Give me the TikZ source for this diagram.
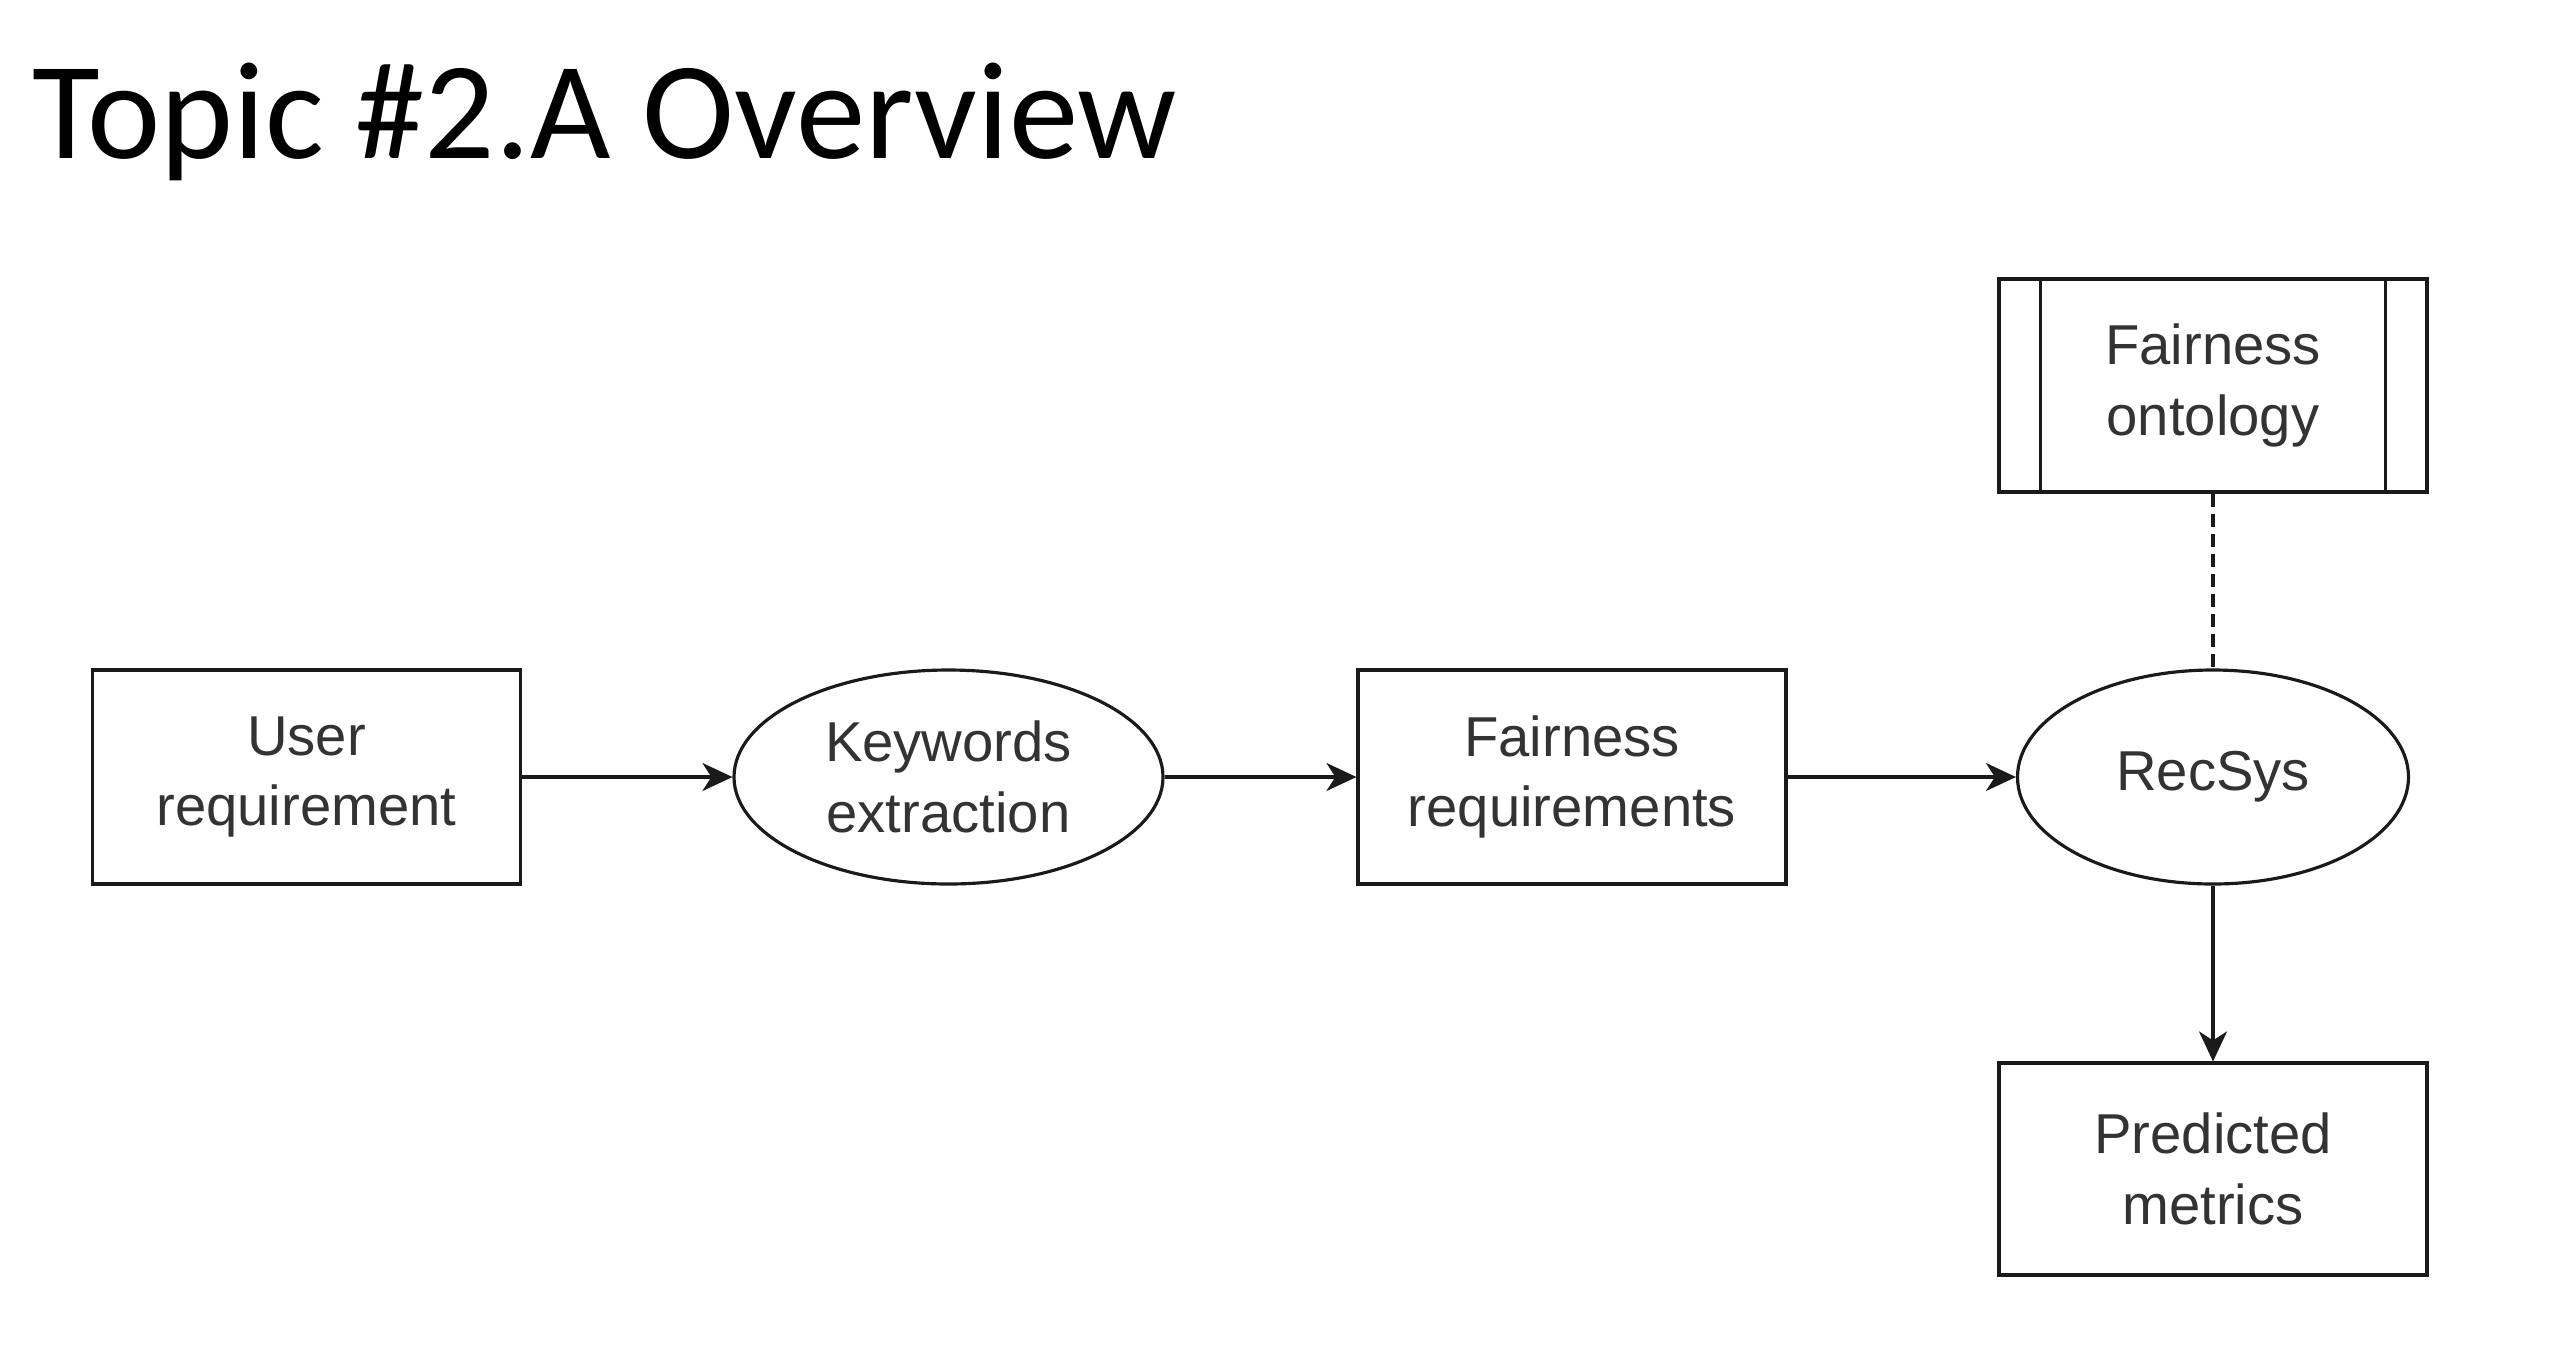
\documentclass[tikz,border=0pt]{standalone}
\usepackage{fontspec}
\setmainfont{Liberation Sans}
\newfontfamily\titlefont{Carlito}
\usetikzlibrary{arrows.meta,positioning,shapes.geometric}
\definecolor{ink}{HTML}{1A1A1A}
\definecolor{label}{HTML}{333333}

\begin{document}
\begin{tikzpicture}[font=\fontsize{16}{20}\selectfont,
              box/.style={rectangle,draw=ink,line width=0.9pt,fill=white,text=label,
                          align=center,minimum width=4.28cm,minimum height=2.14cm,inner sep=0},
              proc/.style={ellipse,draw=ink,line width=0.9pt,fill=white,text=label,
                           align=center,minimum height=2.14cm,inner sep=0},
              flow/.style={ink,line width=0.9pt,-{Stealth[length=3mm,width=2.8mm,inset=0.9mm]}}]
              \useasboundingbox (0,0) rectangle (25.57,-13.59);
              \node[anchor=base west,font=\titlefont\fontsize{39.5}{48}\selectfont] (title) at (0.2,-1.58) {Topic \#2.A Overview};
              \node[box] (user) at (3.065,-7.77) {User\\requirement};
              \node[proc,minimum width=4.29cm] (kw) at (9.485,-7.77) {Keywords\\extraction};
              \node[box] (fair) at (15.72,-7.77) {Fairness\\requirements};
              \node[proc,minimum width=3.91cm] (rec) at (22.13,-7.77) {RecSys};
              \node[box,minimum height=2.13cm] (onto) at (22.13,-3.855) {Fairness\\ontology};
              \node[box,minimum height=2.12cm] (pred) at (22.13,-11.69) {Predicted\\metrics};
              \draw[ink,line width=0.9pt] ([xshift=4.3mm]onto.north west)--([xshift=4.3mm]onto.south west)
              ([xshift=-4.3mm]onto.north east)--([xshift=-4.3mm]onto.south east);
              \draw[flow] (user)--(kw);
              \draw[flow] (kw)--(fair);
              \draw[flow] (fair)--(rec);
              \draw[flow] (rec)--(pred);
              \draw[ink,line width=0.9pt,dash pattern=on 1.3mm off 0.7mm] (onto.south)--(rec.north);
            \end{tikzpicture}
\end{document}
